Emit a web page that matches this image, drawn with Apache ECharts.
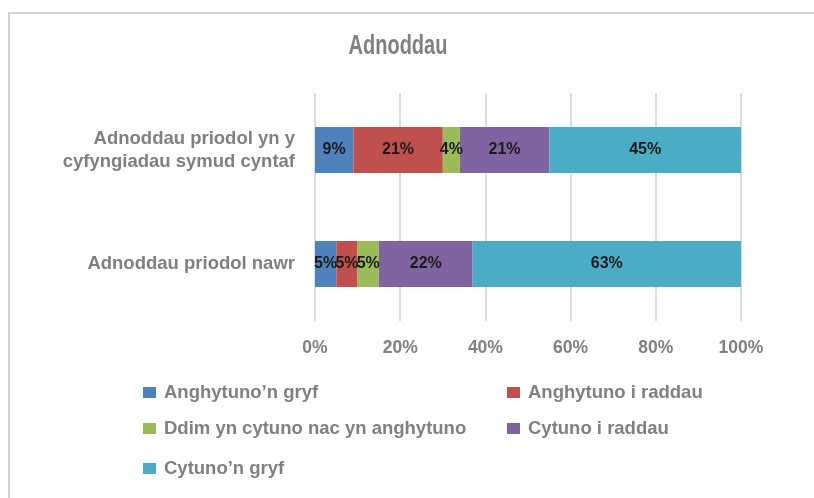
<!DOCTYPE html>
<html>
<head>
<meta charset="utf-8">
<script src="https://cdn.jsdelivr.net/npm/echarts@6/dist/echarts.min.js"></script>
<style>
  html, body { margin: 0; padding: 0; background: #fff; }
  #chart { width: 814px; height: 498px; }
</style>
</head>
<body>
<div id="chart"></div>
<script>
// categories, bottom to top (ECharts draws the first one at the bottom)
var categories = ['Adnoddau priodol nawr', 'Adnoddau priodol yn y\ncyfyngiadau symud cyntaf'];
var seriesNames = ['Anghytuno\u2019n gryf', 'Anghytuno i raddau', 'Ddim yn cytuno nac yn anghytuno', 'Cytuno i raddau', 'Cytuno\u2019n gryf'];
var stronglyDisagree = [5, 9];
var disagree = [5, 21];
var neutral = [5, 4];
var agree = [22, 21];
var stronglyAgree = [63, 45];
var colors = ['#4f81bd', '#c0504d', '#9bbb59', '#8064a2', '#4bacc6'];

var gray = '#808080';

function lineTable(id) {
    var myChart = echarts.init(document.getElementById(id));

    var values = [stronglyDisagree, disagree, neutral, agree, stronglyAgree];
    var series = [];
    for (var i = 0; i < seriesNames.length; i++) {
        series.push({
            name: seriesNames[i],
            type: 'bar',
            stack: 'total',
            barWidth: 46,
            data: values[i],
            itemStyle: { color: colors[i] },
            label: {
                show: true,
                position: 'inside',
                formatter: '{c}%',
                color: '#1a1a1a',
                fontSize: 16,
                fontWeight: 'bold',
                fontFamily: 'Liberation Sans'
            }
        });
    }

    // legend laid out in two columns like the original
    var legendPos = [[143, 383], [507, 383], [143, 419], [507, 419], [143, 459]];
    var legends = [];
    for (var j = 0; j < seriesNames.length; j++) {
        legends.push({
            data: [seriesNames[j]],
            left: legendPos[j][0],
            top: legendPos[j][1],
            padding: 0,
            icon: 'rect',
            itemWidth: 13,
            itemHeight: 11,
            selectedMode: false,
            textStyle: {
                color: gray,
                fontSize: 18.5,
                fontWeight: 'bold',
                fontFamily: 'Liberation Sans',
                padding: [0, 0, 0, 3]
            }
        });
    }

    var option = {
        animation: false,
        graphic: [{
            type: 'rect',
            shape: { x: 9, y: 13, width: 820, height: 500 },
            style: { fill: 'none', stroke: '#c4c4c4', lineWidth: 1.5 },
            silent: true
        }, {
            // narrow title, like the condensed font of the original
            type: 'text',
            x: 398,
            y: 47,
            scaleX: 0.74,
            silent: true,
            style: {
                text: 'Adnoddau',
                fill: gray,
                fontSize: 27,
                fontWeight: 'bold',
                fontFamily: 'Liberation Sans',
                align: 'center',
                verticalAlign: 'middle'
            }
        }],
        legend: legends,
        grid: { left: 315, right: 73, top: 93, height: 228 },
        xAxis: {
            type: 'value',
            min: 0,
            max: 100,
            interval: 20,
            axisLine: { show: false },
            axisTick: { show: false },
            splitLine: { lineStyle: { color: '#d0d0d0', width: 1.5 } },
            axisLabel: {
                formatter: '{value}%',
                color: gray,
                fontSize: 17.5,
                fontWeight: 'bold',
                fontFamily: 'Liberation Sans',
                margin: 18
            }
        },
        yAxis: {
            type: 'category',
            data: categories,
            axisLine: { show: false },
            axisTick: { show: false },
            axisLabel: {
                color: gray,
                fontSize: 18.5,
                fontWeight: 'bold',
                fontFamily: 'Liberation Sans',
                lineHeight: 23,
                align: 'right',
                margin: 20
            }
        },
        series: series
    };

    myChart.setOption(option);
    window.addEventListener('resize', function () { myChart.resize(); });
}

lineTable('chart');
</script>
</body>
</html>
